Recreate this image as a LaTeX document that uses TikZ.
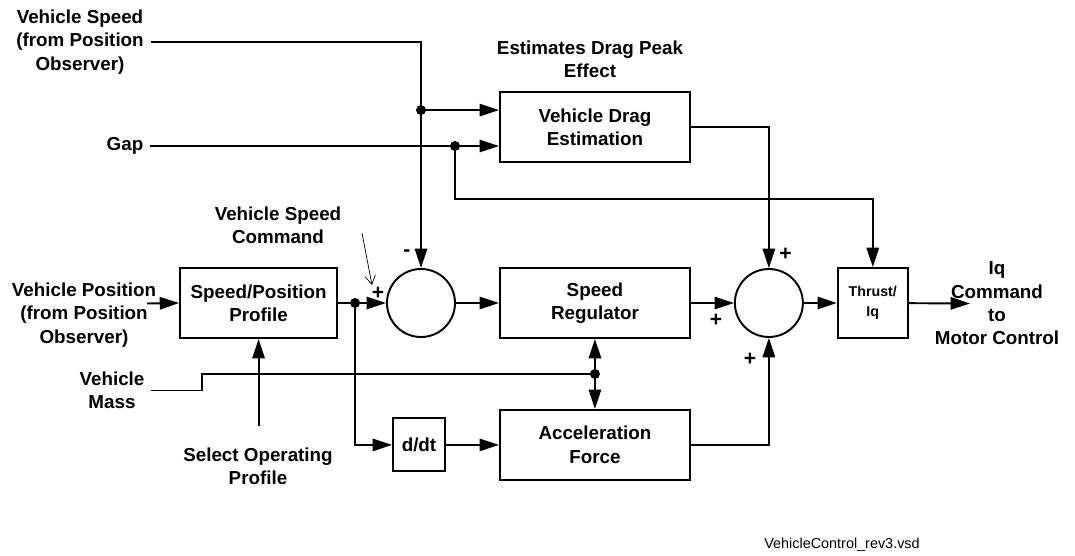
\documentclass[tikz,border=0pt]{standalone}
\usepackage{fontspec}
\setmainfont{Liberation Sans}
\usetikzlibrary{positioning,calc,arrows.meta}

\begin{document}
\begin{tikzpicture}[>={Triangle[length=11pt,width=7pt]}, line width=1.1pt,
  every node/.style={font=\fontsize{10.7}{13.3}\selectfont\bfseries, align=center},
  block/.style={draw, minimum width=3.8cm, minimum height=1.4cm, inner sep=2pt},
  sum/.style={draw, circle, minimum size=1.36cm, inner sep=0pt},
  dot/.style={circle, fill, inner sep=0pt, minimum size=0.2cm},
  sign/.style={font=\fontsize{12}{12}\selectfont\bfseries, inner sep=0pt}]
  \useasboundingbox (0,0) rectangle (21.5,-11.12);

  \node[sum] (sum1) at (8.42,-6.06) {};
  \node[block, left=0.96cm of sum1, minimum width=3.14cm] (prof) {Speed/Position\\Profile};
  \node[block, right=0.86cm of sum1] (reg) {Speed\\Regulator};
  \node[sum, right=0.86cm of reg] (sum2) {};
  \node[block, right=0.66cm of sum2, minimum width=1.4cm, font=\fontsize{8.1}{11.3}\selectfont\bfseries] (thrust) {Thrust/\\Iq};
  \node[block, above=2.08cm of reg] (drag) {Vehicle Drag\\Estimation};
  \node[block, below=1.4cm of reg] (acc) {Acceleration\\Force};
  \node[block, left=1.06cm of acc, minimum width=1.04cm, minimum height=1.06cm] (ddt) {d/dt};

  \node (vspeed) at (1.6,-0.84) {Vehicle Speed\\(from Position\\Observer)};
  \node (gap) at (2.5,-2.92) {Gap};
  \node (est) at (11.8,-1.18) {Estimates Drag Peak\\Effect};
  \node (cmd) at (5.56,-4.5) {Vehicle Speed\\Command};
  \node (vpos) at (1.68,-6.3) {Vehicle Position\\(from Position\\Observer)};
  \node (mass) at (2.24,-7.81) {Vehicle\\Mass};
  \node (sel) at (5.16,-9.33) {Select Operating\\Profile};
  \node (iq) at (19.94,-6.07) {Iq\\Command\\to\\Motor Control};
  \node[font=\fontsize{8.2}{10}\selectfont] (file) at (16.84,-10.9) {VehicleControl\_rev3.vsd};

  \node[sign] (minus1) at (8.14,-5.06) {-};
  \node[sign] (plus1) at (7.56,-5.86) {+};
  \node[sign] (plus2) at (15.71,-5.08) {+};
  \node[sign] (plus3) at (14.32,-6.4) {+};
  \node[sign] (plus4) at (15.0,-7.18) {+};

  \node[dot] (spddot) at ($(sum1.north |- drag.west)+(0,0.34)$) {};
  \node[dot] (gapdot) at (9.1,-2.92) {};
  \node[dot] (profdot) at ($(prof.east)+(0.34,0)$) {};
  \node[dot] (massdot) at ($(reg.south)!0.5!(acc.north)$) {};
  \coordinate (vposout) at (2.94,-6.07);
  \coordinate (selin) at ($(prof.south)+(0,-1.75)$);
  \coordinate (iqout) at (19.4,-6.07);
  \coordinate (cmdtail) at (7.24,-4.66);
  \coordinate (cmdtip) at (7.44,-5.7);

  \draw[->] (vspeed.east) -| (sum1.north);
  \draw[->] (spddot.center) -- (spddot -| drag.west);
  \draw[->] (gap.east) -- (gap.east -| drag.west);
  \draw[->] (gapdot.center) -- ++(0,-1.06) -| (thrust.north);
  \draw[->] (drag.east) -| (sum2.north);
  \draw[->] (vposout) -- (prof.west);
  \draw[->] (selin) -- (prof.south);
  \draw (prof.east) -- (profdot.center);
  \draw[->] (profdot.center) -- (sum1.west);
  \draw[->] (profdot.center) |- (ddt.west);
  \draw[->] (sum1) -- (reg);
  \draw[->] (reg) -- (sum2);
  \draw[->] (sum2) -- (thrust);
  \draw[->] (thrust) -- (iqout);
  \draw[->] (ddt) -- (acc);
  \draw[->] (acc.east) -| (sum2.south);
  \draw[<->] (reg) -- (acc);
  \draw (mass.east) -- ++(1.02,0) |- (massdot.center);
  \draw[line width=0.4pt, -{Straight Barb[length=5pt,width=6pt]}] (cmdtail) -- (cmdtip);
\end{tikzpicture}
\end{document}
